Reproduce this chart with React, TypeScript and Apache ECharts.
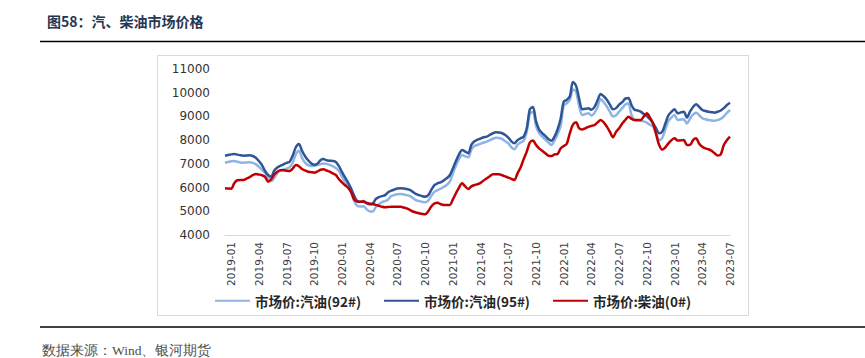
import React, { useEffect, useRef } from "react";
import * as echarts from "echarts";

// 旬度 categories: 2019-01 上旬 .. 2023-07 下旬
const startYear = 2019;
const monthCount = 55;
const periods = ["上旬", "中旬", "下旬"];
const categories: string[] = [];
for (let m = 0; m < monthCount; m++) {
  const y = startYear + Math.floor(m / 12);
  const mm = String((m % 12) + 1).padStart(2, "0");
  for (const p of periods) categories.push(`${y}-${mm} ${p}`);
}

const yTicks = [4000, 11000, 1000];

const gas92 = [
  7050, 7080, 7110, 7120, 7090, 7060, 7050, 7060, 7065, 7040,
  6980, 6880, 6750, 6620, 6400, 6270, 6400, 6620, 6720, 6760,
  6800, 6860, 7050, 7400, 7550, 7250, 7050, 6950, 6910, 6920,
  6950, 6990, 7020, 7000, 6960, 6900, 6830, 6700, 6450, 6250,
  6080, 5800, 5420, 5220, 5200, 5210, 5080, 5000, 4990, 5180,
  5300, 5390, 5430, 5500, 5640, 5690, 5720, 5730, 5710, 5680,
  5645, 5560, 5475, 5430, 5400, 5380, 5450, 5650, 5820, 5890,
  5950, 6030, 6110, 6250, 6600, 6920, 7200, 7370, 7320, 7275,
  7600, 7750, 7800, 7850, 7900, 7935, 8000, 8060, 8100, 8090,
  8050, 7950, 7870, 7700, 7620, 7800, 7900, 7980, 8350, 9100,
  9200, 8600, 8300, 8150, 8020, 7900, 7800, 7980, 8250, 8600,
  9450, 9560, 9700, 10140, 10050, 9450, 9060, 9100, 9130, 9040,
  9150, 9400, 9740, 9600, 9420, 9200, 9000, 9050, 9200, 9350,
  9500, 9550, 9060, 8850, 8830, 8820, 8790, 8740, 8650, 8570,
  8300, 8005, 8100, 8450, 8800, 8960, 9060, 8850, 8870, 8880,
  8700, 8900, 9080, 9160, 9050, 8920, 8880, 8850, 8830, 8820,
  8850, 8900, 9000, 9150, 9270,
];

const gas95 = [
  7344, 7370, 7400, 7416, 7390, 7360, 7344, 7350, 7360, 7330,
  7260, 7120, 6950, 6700, 6530, 6460, 6720, 6850, 6920, 6980,
  7040, 7090, 7350, 7700, 7840, 7550, 7320, 7150, 7020, 6960,
  7000, 7150, 7200, 7150, 7130, 7120, 7080, 6900, 6650, 6420,
  6200, 5950, 5640, 5420, 5400, 5430, 5330, 5300, 5330, 5520,
  5600, 5640, 5680, 5800, 5870, 5920, 5960, 5970, 5960, 5940,
  5900, 5820, 5730, 5680, 5640, 5615, 5680, 5900, 6100, 6180,
  6220, 6300, 6390, 6520, 6800, 7120, 7400, 7580, 7520, 7445,
  7800, 7950, 8020, 8070, 8120, 8150, 8220, 8290, 8330, 8320,
  8290, 8220, 8110, 7950, 7870, 8000, 8080, 8150, 8500, 9300,
  9400, 8800, 8450, 8300, 8180, 8050, 7970, 8150, 8450, 8900,
  9620, 9700, 9850, 10450, 10300, 9750, 9300, 9320, 9340, 9280,
  9400, 9680, 9950, 9850, 9700, 9500, 9300, 9350, 9500, 9600,
  9750, 9780, 9480, 9280, 9250, 9200, 9100, 9020, 8880, 8710,
  8500, 8290, 8360, 8700, 9050, 9200, 9300, 9130, 9170, 9200,
  8950, 9200, 9400, 9510, 9400, 9270, 9230, 9200, 9180, 9160,
  9200, 9250, 9350, 9480, 9580,
];

const diesel0 = [
  5970, 5960, 5950, 6180, 6310, 6320, 6320, 6380, 6440, 6520,
  6570, 6550, 6520, 6450, 6250, 6350, 6550, 6670, 6730, 6730,
  6710, 6700, 6800, 6950, 6900, 6780, 6720, 6670, 6650, 6630,
  6680, 6750, 6770, 6720, 6670, 6600, 6530, 6350, 6220, 6100,
  5990, 5800, 5480, 5410, 5400, 5405, 5360, 5320, 5300, 5270,
  5230, 5190, 5170, 5180, 5195, 5195, 5195, 5190, 5160, 5120,
  5060, 4990, 4950, 4915, 4890, 4870, 5000, 5200, 5330, 5360,
  5300, 5265, 5265, 5265, 5500, 5760, 6000, 6180, 6050, 5940,
  6050, 6110, 6140, 6200, 6300, 6390, 6480, 6560, 6560, 6560,
  6520, 6470, 6420, 6370, 6320, 6600, 6850, 7200, 7515, 7900,
  7980, 7800, 7650, 7550, 7450, 7350, 7330, 7400, 7420, 7650,
  7750, 7850, 8300, 8650, 8750, 8500, 8450, 8500, 8560, 8600,
  8640, 8750, 8850, 8750, 8570, 8350, 8120, 8350, 8500, 8700,
  8850, 8990, 8900, 8850, 8850, 8850, 9000, 9130, 8950, 8710,
  8250, 7795, 7600, 7700, 7865, 8000, 8075, 7980, 7990, 8005,
  7800, 7800, 8000, 8075, 7850, 7720, 7650, 7615, 7550, 7445,
  7350, 7400, 7800, 8000, 8145,
];

const seriesNames = ["市场价:汽油(92#)", "市场价:汽油(95#)", "市场价:柴油(0#)"];
const seriesColors = ["#8EB4E3", "#2F5597", "#C00000"];

export default function App() {
  const ref = useRef<HTMLDivElement>(null);
  useEffect(() => {
    if (!ref.current) return;
    const chart = echarts.init(ref.current, undefined, { renderer: "svg" });
    const datas = [gas92, gas95, diesel0];
    chart.setOption({
      animation: false,
      backgroundColor: "#ffffff",
      title: {
        text: "图58：汽、柴油市场价格",
        left: 42,
        top: 9,
        textStyle: {
          fontFamily: "Noto Sans CJK SC",
          fontSize: 14,
          fontWeight: "bold",
          color: "#243653",
        },
      },
      graphic: [
        { type: "line", shape: { x1: 40, y1: 41.5, x2: 865, y2: 41.5 }, style: { stroke: "#000", lineWidth: 1.5 } },
        { type: "line", shape: { x1: 40, y1: 327, x2: 865, y2: 327 }, style: { stroke: "#000", lineWidth: 1.5 } },
        {
          type: "rect",
          shape: { x: 157.5, y: 55.5, width: 591, height: 260 },
          style: { fill: "none", stroke: "#d9d9d9", lineWidth: 1 },
        },
        {
          type: "text",
          left: 42,
          top: 343,
          style: {
            text: "数据来源：Wind、银河期货",
            font: "13.5px serif",
            fill: "#4d4d4d",
          },
        },
      ],
      legend: {
        left: 210,
        top: 289,
        itemWidth: 35,
        itemHeight: 2,
        itemGap: 23,
        icon: "rect",
        textStyle: {
          fontFamily: "Noto Sans CJK SC",
          fontSize: 13.5,
          fontWeight: "bold",
          color: "#262626",
        },
        data: seriesNames,
      },
      grid: { left: 225, right: 135, top: 69, bottom: 123, containLabel: false },
      xAxis: {
        type: "category",
        data: categories,
        boundaryGap: false,
        axisLine: { show: true, lineStyle: { color: "#d9d9d9", width: 1 } },
        axisTick: { show: false },
        axisLabel: {
          rotate: 90,
          margin: 7,
          fontFamily: "DejaVu Sans",
          fontSize: 10.5,
          color: "#404040",
          interval: (idx: number) => idx % 9 === 2,
          formatter: (v: string) => v.slice(0, 7),
        },
        splitLine: { show: false },
      },
      yAxis: {
        type: "value",
        min: yTicks[0],
        max: yTicks[1],
        interval: yTicks[2],
        axisLine: { show: false },
        axisTick: { show: false },
        splitLine: { show: false },
        axisLabel: {
          margin: 15,
          fontFamily: "DejaVu Sans",
          fontSize: 12,
          color: "#333333",
          formatter: (v: number) => String(v),
        },
      },
      series: seriesNames.map((name, k) => ({
        name,
        type: "line",
        data: datas[k],
        smooth: 0.3,
        showSymbol: false,
        symbol: "none",
        lineStyle: { color: seriesColors[k], width: 2.5 },
        itemStyle: { color: seriesColors[k] },
        z: k === 2 ? 3 : 2,
      })),
    });
    return () => chart.dispose();
  }, []);
  return (
    <div
      ref={ref}
      style={{ position: "fixed", left: 0, top: 0, width: 865, height: 358, background: "#fff" }}
    />
  );
}
